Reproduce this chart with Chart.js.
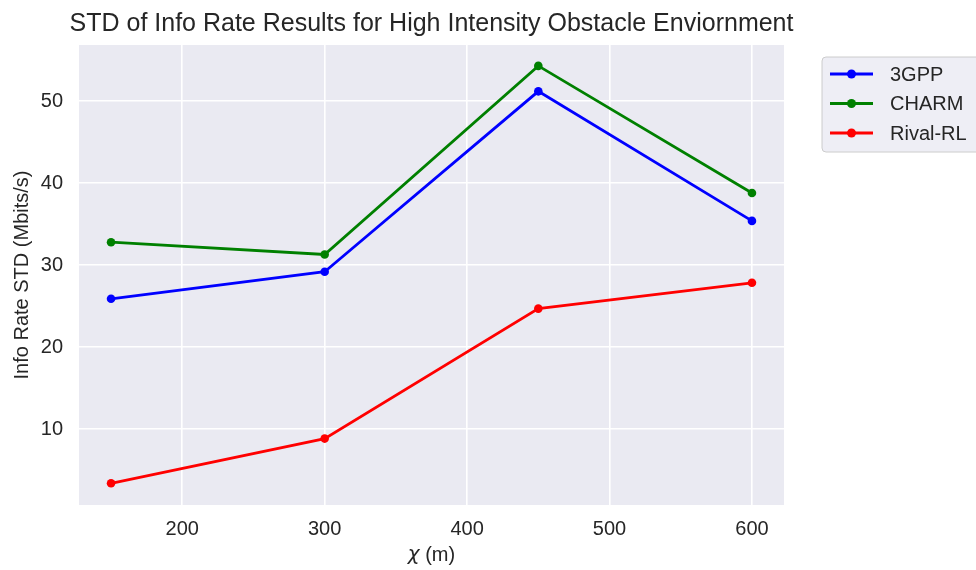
<!DOCTYPE html>
<html>
<head>
<meta charset="utf-8">
<script src="https://cdn.jsdelivr.net/npm/chart.js@4.4.0/dist/chart.umd.min.js"></script>
<style>
  html, body { margin: 0; padding: 0; background: #ffffff; }
  #wrap { width: 976px; height: 570px; }
</style>
</head>
<body>
<div id="wrap"><canvas id="stdChart" width="976" height="570"></canvas></div>
<script>
// distances (m) and STD values
const distances = [150, 300, 450, 600];
const gpp3 = [25.9, 29.2, 51.2, 35.4];
const charm = [32.8, 31.3, 54.3, 38.8];
const rivalRL = [3.4, 8.85, 24.7, 27.85];

const xTicks = [200, 300, 400, 500, 600];
const yTicks = [10, 20, 30, 40, 50];

const seriesNames = ['3GPP', 'CHARM', 'Rival-RL'];
const seriesColors = ['#0000ff', '#008000', '#ff0000'];

const titleText = 'STD of Info Rate Results for High Intensity Obstacle Enviornment';
const FONT = '"Liberation Sans", Arial, sans-serif';
const TEXT = '#262626';

function toPoints(ys) {
    return distances.map((x, i) => ({ x: x, y: ys[i] }));
}

// grey seaborn background behind the grid
const panelBg = {
    id: 'panelBg',
    beforeDraw(chart) {
        const a = chart.chartArea;
        const c = chart.ctx;
        c.save();
        c.fillStyle = '#eaeaf2';
        c.fillRect(a.left, a.top, a.right - a.left, a.bottom - a.top);
        c.restore();
    }
};

// title, x label with italic chi, boxed legend on the right
const extras = {
    id: 'extras',
    afterDraw(chart) {
        const a = chart.chartArea;
        const c = chart.ctx;
        const mid = (a.left + a.right) / 2;
        c.save();
        c.fillStyle = TEXT;
        c.font = '25px ' + FONT;
        c.textAlign = 'center';
        c.textBaseline = 'middle';
        c.fillText(titleText, mid, 24);

        // x axis label: italic chi + " (m)"
        c.textAlign = 'left';
        c.font = 'italic 20px "DejaVu Sans", sans-serif';
        const chi = 'χ';
        const wChi = c.measureText(chi).width;
        c.font = '20px ' + FONT;
        const rest = ' (m)';
        const wRest = c.measureText(rest).width;
        const x0 = mid - (wChi + wRest) / 2;
        c.font = 'italic 20px "DejaVu Sans", sans-serif';
        c.fillText(chi, x0, 555);
        c.font = '20px ' + FONT;
        c.fillText(rest, x0 + wChi, 555);

        // legend box
        const bx = 822, by = 57, bw = 160, bh = 95, r = 4;
        c.beginPath();
        c.moveTo(bx + r, by);
        c.lineTo(bx + bw - r, by);
        c.arcTo(bx + bw, by, bx + bw, by + r, r);
        c.lineTo(bx + bw, by + bh - r);
        c.arcTo(bx + bw, by + bh, bx + bw - r, by + bh, r);
        c.lineTo(bx + r, by + bh);
        c.arcTo(bx, by + bh, bx, by + bh - r, r);
        c.lineTo(bx, by + r);
        c.arcTo(bx, by, bx + r, by, r);
        c.closePath();
        c.fillStyle = 'rgba(234,234,242,0.8)';
        c.fill();
        c.strokeStyle = '#cccccc';
        c.lineWidth = 1;
        c.stroke();

        chart.data.datasets.forEach((ds, i) => {
            const y = 74 + i * 29.5;
            c.strokeStyle = ds.borderColor;
            c.lineWidth = 3;
            c.beginPath();
            c.moveTo(830, y);
            c.lineTo(873, y);
            c.stroke();
            c.fillStyle = ds.borderColor;
            c.beginPath();
            c.arc(851.5, y, 4.5, 0, Math.PI * 2);
            c.fill();
            c.fillStyle = TEXT;
            c.font = '20px ' + FONT;
            c.textAlign = 'left';
            c.fillText(ds.label, 890, y + 1);
        });
        c.restore();
    }
};

const allSeries = [gpp3, charm, rivalRL];

new Chart(document.getElementById('stdChart'), {
    type: 'line',
    data: {
        datasets: allSeries.map((ys, i) => ({
            label: seriesNames[i],
            data: toPoints(ys),
            borderColor: seriesColors[i],
            backgroundColor: seriesColors[i],
            borderWidth: 2.8,
            pointRadius: 4.3,
            pointBorderWidth: 0,
            pointHoverRadius: 4.3,
            tension: 0,
            fill: false
        }))
    },
    options: {
        responsive: false,
        animation: false,
        events: [],
        layout: { padding: { top: 45, right: 192, left: 0, bottom: 0 } },
        plugins: {
            legend: { display: false },
            title: { display: false },
            tooltip: { enabled: false }
        },
        scales: {
            x: {
                type: 'linear',
                min: 127.5,
                max: 622.5,
                afterFit: (s) => { s.height = 65; },
                afterBuildTicks: (s) => { s.ticks = xTicks.map(v => ({ value: v })); },
                grid: { color: '#ffffff', lineWidth: 1.6, drawTicks: false },
                border: { display: false },
                ticks: { color: TEXT, font: { family: FONT, size: 20 }, padding: 12, maxRotation: 0 },
                title: { display: false }
            },
            y: {
                type: 'linear',
                min: 0.75,
                max: 56.85,
                afterFit: (s) => { s.width = 79; },
                afterBuildTicks: (s) => { s.ticks = yTicks.map(v => ({ value: v })); },
                grid: { color: '#ffffff', lineWidth: 1.6, drawTicks: false },
                border: { display: false },
                ticks: { color: TEXT, font: { family: FONT, size: 20 }, padding: 16 },
                title: { display: true, text: 'Info Rate STD (Mbits/s)', color: TEXT, font: { family: FONT, size: 20 }, padding: { top: 10, bottom: 0 } }
            }
        }
    },
    plugins: [panelBg, extras]
});
</script>
</body>
</html>
